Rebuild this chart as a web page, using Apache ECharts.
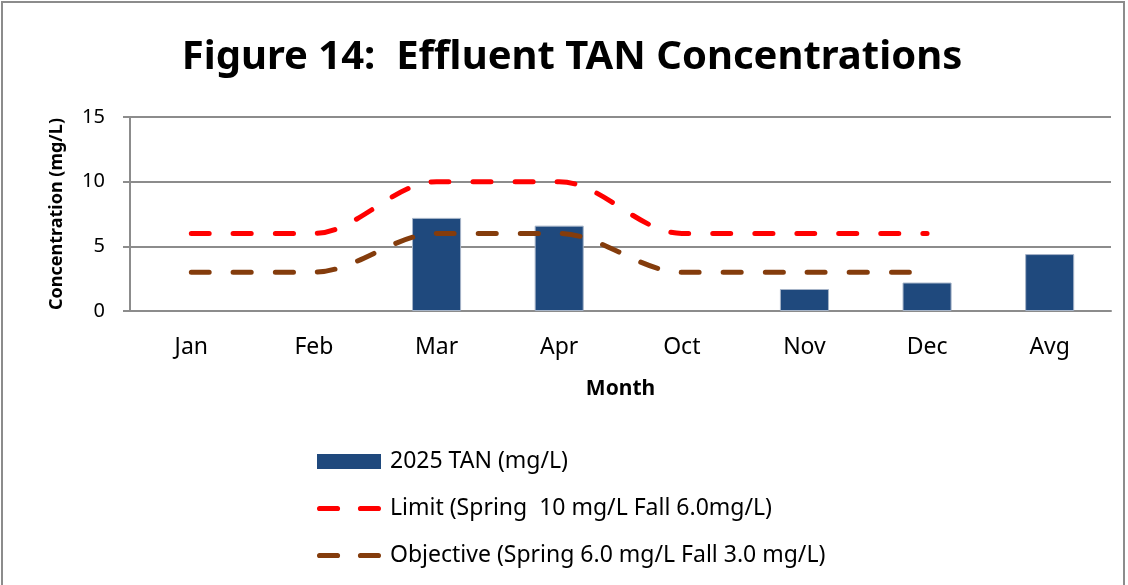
<!DOCTYPE html>
<html>
<head>
<meta charset="utf-8">
<script src="https://cdn.jsdelivr.net/npm/echarts@6/dist/echarts.min.js"></script>
<style>
  html, body { margin: 0; padding: 0; background: #fff; }
  #main { position: absolute; left: 1px; top: 1px; width: 1124px; height: 590px; border: 2px solid #8c8c8c; box-sizing: border-box; }
</style>
</head>
<body>
<div id="main"></div>
<script>
// 数据
const months = ['Jan', 'Feb', 'Mar', 'Apr', 'Oct', 'Nov', 'Dec', 'Avg'];
const tanValues = [null, null, 7.2, 6.6, null, 1.7, 2.2, 4.4];
const limitValues = [6, 6, 10, 10, 6, 6, 6, null];
const objectiveValues = [3, 3, 6, 6, 3, 3, 3, null];

const FONT = '"Noto Sans", sans-serif';
const GREY = '#8c8c8c';

// 图例里的虚线图标（两段圆头短线）
const dashIcon = 'path://M2.5,0 L19.5,0 A2.5,2.5 0 0 1 19.5,5 L2.5,5 A2.5,2.5 0 0 1 2.5,0 Z ' +
                 'M41.5,0 L58.5,0 A2.5,2.5 0 0 1 58.5,5 L41.5,5 A2.5,2.5 0 0 1 41.5,0 Z';

const chart = echarts.init(document.getElementById('main'));

const option = {
  animation: false,
  title: {
    text: 'Figure 14:  Effluent TAN Concentrations',
    left: 564,
    textAlign: 'center',
    top: 30,
    textStyle: { fontFamily: FONT, fontSize: 40, fontWeight: 'bold', color: '#000' }
  },
  grid: { left: 127, right: 12, top: 114, bottom: 278 },
  legend: {
    orient: 'vertical',
    left: 314,
    top: 447,
    padding: 0,
    itemWidth: 64,
    itemHeight: 15,
    itemGap: 24,
    textStyle: { fontFamily: FONT, fontSize: 23, color: '#000', padding: [0, 0, 0, 4] },
    data: [
      { name: '2025 TAN (mg/L)', icon: 'rect', itemStyle: { color: '#1f497d', borderWidth: 0 } },
      { name: 'Limit (Spring  10 mg/L Fall 6.0mg/L)', icon: dashIcon, itemStyle: { color: '#ff0000' } },
      { name: 'Objective (Spring 6.0 mg/L Fall 3.0 mg/L)', icon: dashIcon, itemStyle: { color: '#843c0c' } }
    ]
  },
  xAxis: {
    type: 'category',
    data: months,
    name: 'Month',
    nameLocation: 'middle',
    nameGap: 68,
    nameTextStyle: { fontFamily: FONT, fontSize: 21, fontWeight: 'bold', color: '#000' },
    axisLine: { lineStyle: { color: GREY, width: 2 } },
    axisTick: { length: 7, lineStyle: { color: GREY, width: 2 } },
    axisLabel: { fontFamily: FONT, fontSize: 23, color: '#000', margin: 25 }
  },
  yAxis: {
    type: 'value',
    min: 0,
    max: 15,
    interval: 5,
    name: 'Concentration (mg/L)',
    nameLocation: 'middle',
    nameGap: 64,
    nameTextStyle: { fontFamily: FONT, fontSize: 18, fontWeight: 'bold', color: '#000' },
    axisLine: { show: true, lineStyle: { color: GREY, width: 2 } },
    axisTick: { show: true, length: 7, lineStyle: { color: GREY, width: 2 } },
    axisLabel: { fontFamily: FONT, fontSize: 20, color: '#000', margin: 25 },
    splitLine: { lineStyle: { color: GREY, width: 2 } }
  },
  series: [
    {
      name: '2025 TAN (mg/L)',
      type: 'bar',
      data: tanValues,
      barWidth: '40%',
      itemStyle: { color: '#1f497d', borderColor: '#a6b4c8', borderWidth: 1 }
    },
    {
      name: 'Limit (Spring  10 mg/L Fall 6.0mg/L)',
      type: 'line',
      data: limitValues,
      smooth: 0.33,
      symbol: 'none',
      symbolKeepAspect: true,
      itemStyle: { color: '#ff0000' },
      lineStyle: { color: '#ff0000', width: 5, type: [18, 24], cap: 'round' }
    },
    {
      name: 'Objective (Spring 6.0 mg/L Fall 3.0 mg/L)',
      type: 'line',
      data: objectiveValues,
      smooth: 0.33,
      symbol: 'none',
      symbolKeepAspect: true,
      itemStyle: { color: '#843c0c' },
      lineStyle: { color: '#843c0c', width: 5, type: [18, 24], cap: 'round' }
    }
  ]
};

chart.setOption(option);
</script>
</body>
</html>
